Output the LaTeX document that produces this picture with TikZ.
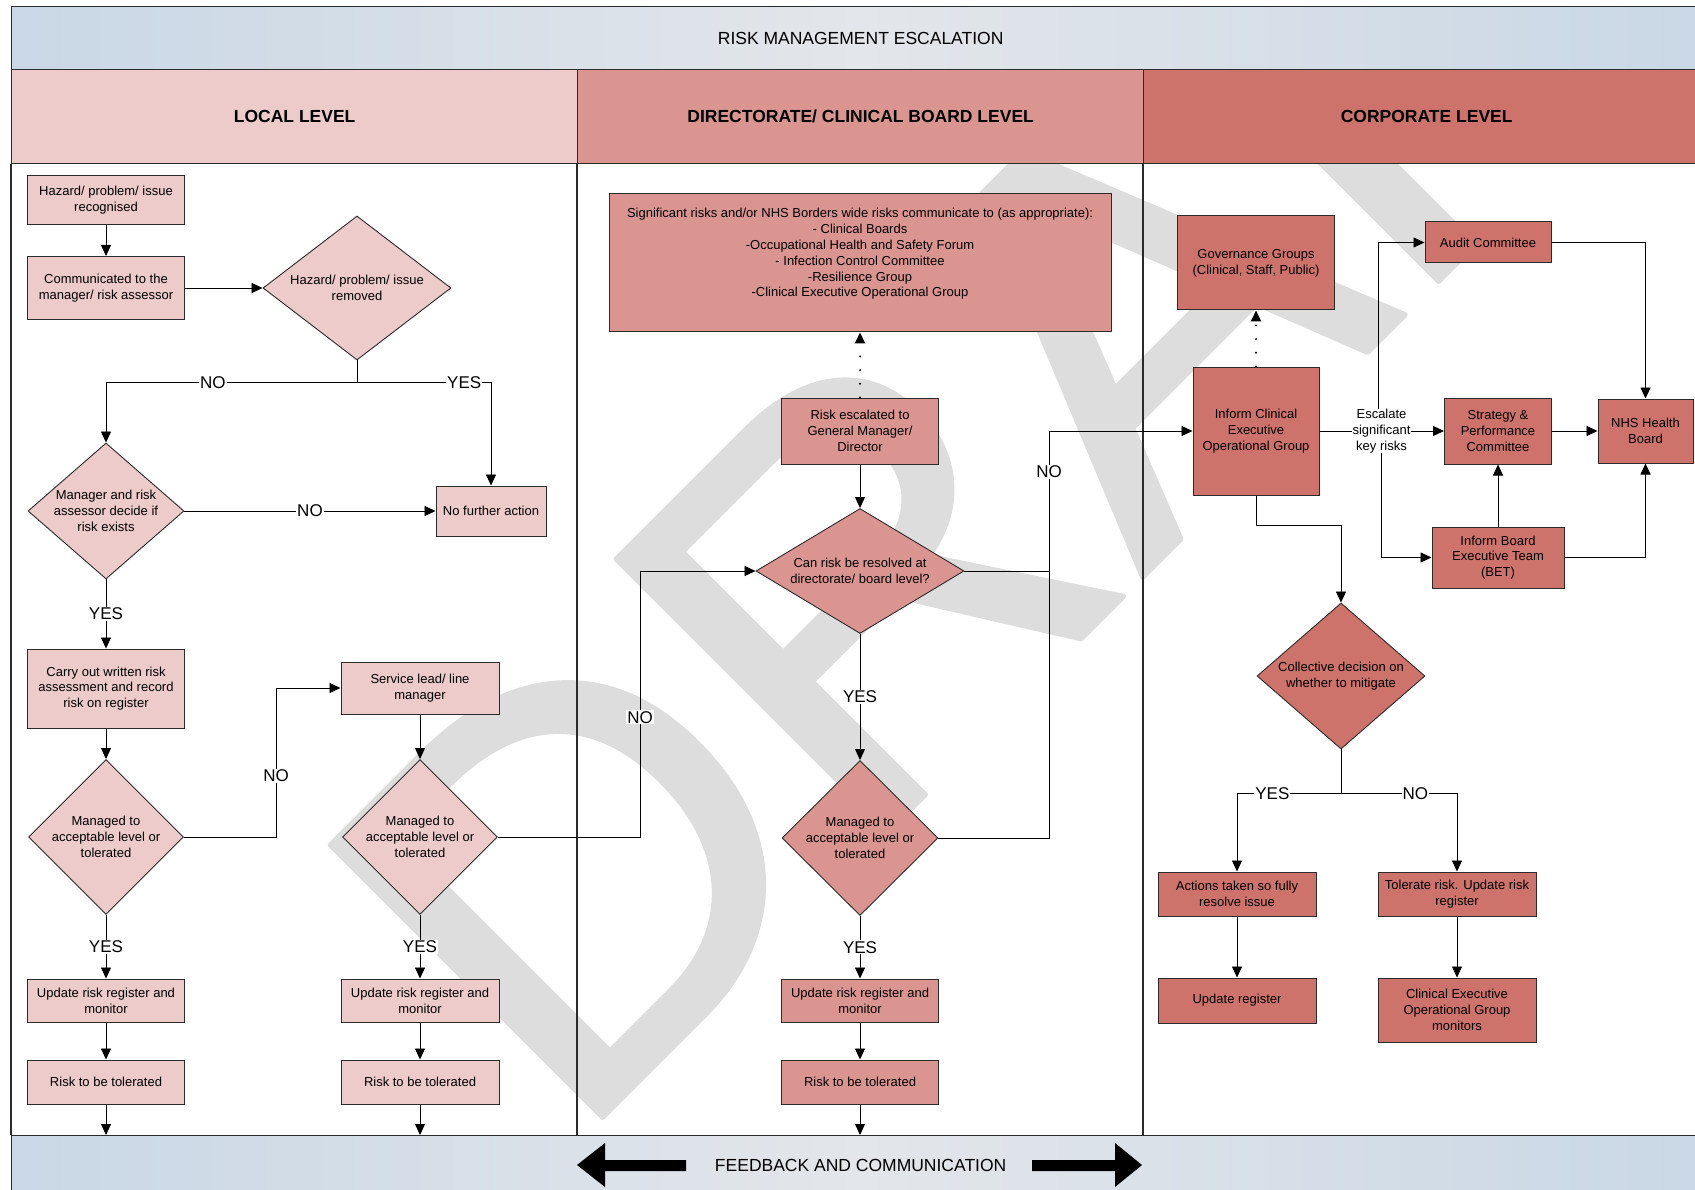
\documentclass[tikz,border=0pt]{standalone}
\usepackage{fontspec}
\setmainfont{Liberation Sans}
\usepackage{xcolor}
\usetikzlibrary{shapes.geometric,arrows.meta}

\definecolor{loccol}{HTML}{ECCBCA}
\definecolor{dircol}{HTML}{DA9591}
\definecolor{corcol}{HTML}{CD736B}
\definecolor{bandcol}{HTML}{C9D7E6}
\definecolor{bandmid}{HTML}{E3E6EA}
\definecolor{wmcol}{HTML}{DDDDDD}
\definecolor{edge}{HTML}{2B2B2B}

\newcommand{\bxfont}{\fontsize{13}{15.8}\selectfont}
\newcommand{\lbfont}{\fontsize{17}{20}\selectfont}
\newcommand{\hdfont}{\fontsize{17.5}{21}\selectfont}
\newcommand{\wmfont}{\fontsize{560}{560}\selectfont}
% rounded watermark letters
\newcommand{\rounded}[1]{\special{pdf:literal direct 2 Tr 5 w 1 j 1 J}#1\special{pdf:literal direct 0 Tr}}

\tikzset{
	box/.style={draw=edge, line width=1pt, align=center, inner sep=1pt, font=\bxfont},
	locbox/.style={box, fill=loccol},
	dirbox/.style={box, fill=dircol},
	corbox/.style={box, fill=corcol},
	decision/.style={diamond, draw=edge, line width=0.9pt, align=center, inner sep=-10pt, font=\bxfont},
	arr/.style={-{Triangle[length=11pt,width=10pt]}, line width=0.8pt},
	dotarr/.style={arr, line width=2.2pt, line cap=round, dash pattern=on 0pt off 13.7pt},
	lab/.style={fill=white, inner sep=1pt, font=\lbfont},
	bandbox/.style={draw=edge, line width=1.3pt, left color=bandcol, right color=bandcol, middle color=bandmid, font=\hdfont, inner sep=0pt},
	lanehead/.style={draw=edge, line width=1.3pt, minimum width=566pt, minimum height=94pt, inner sep=0pt, anchor=north west, font=\hdfont\bfseries},
	lanebar/.style={draw=edge, line width=1.3pt},
	wm/.style={anchor=base west, rotate=45, inner sep=0pt, text=wmcol, font=\wmfont}
}

\begin{document}
\begin{tikzpicture}[x=1pt,y=-1pt]
		\useasboundingbox (0,0) rectangle (1695,1190);
		\fill[white] (0,0) rectangle (1695,1190);
		
		% watermark
		\begin{scope}
			\clip (11,163) rectangle (1709,1135);
			\node[wm] (draft) at (570,1150) {\rounded{DRAFT}};
		\end{scope}
		
		% frame
		\node[bandbox, minimum width=1698pt, minimum height=63pt, anchor=north west] (title) at (11,6) {RISK MANAGEMENT ESCALATION};
		\node[lanehead, fill=loccol] (lloc) at (11,69) {LOCAL LEVEL};
		\node[lanehead, fill=dircol] (ldir) at (577,69) {DIRECTORATE/ CLINICAL BOARD LEVEL};
		\node[lanehead, fill=corcol] (lcor) at (1143,69) {CORPORATE LEVEL};
		\node[bandbox, minimum width=1698pt, minimum height=60pt, anchor=north west] (foot) at (11,1135) {FEEDBACK AND COMMUNICATION};
		\draw[lanebar] (lloc.south west) -- (lloc.south west |- foot.north);
		\draw[lanebar] (ldir.south west) -- (ldir.south west |- foot.north);
		\draw[lanebar] (lcor.south west) -- (lcor.south west |- foot.north);
		\fill (577,1165) -- (605,1143) -- (605,1160) -- (686,1160) -- (686,1171) -- (605,1171) -- (605,1187) -- cycle;
		\fill (1142,1165) -- (1115,1143) -- (1115,1160) -- (1032,1160) -- (1032,1171) -- (1115,1171) -- (1115,1187) -- cycle;
		
		% local level
		\node[locbox, minimum width=157pt, minimum height=49pt] (haz) at (106,200) {Hazard/ problem/ issue\\recognised};
		\node[locbox, minimum width=157pt, minimum height=63pt] (comm) at (106,288) {Communicated to the\\manager/ risk assessor};
		\node[decision, fill=loccol, minimum width=188pt, minimum height=144pt] (rem) at (357,288) {Hazard/ problem/ issue\\removed};
		\node[decision, fill=loccol, minimum width=156pt, minimum height=136pt] (exist) at (106,511) {Manager and risk\\assessor decide if\\risk exists};
		\node[locbox, minimum width=110pt, minimum height=50pt] (nfa) at (491,511) {No further action};
		\node[locbox, minimum width=157pt, minimum height=79pt] (carry) at (106,688.5) {Carry out written risk\\assessment and record\\risk on register};
		\node[decision, fill=loccol, minimum width=155pt, minimum height=155pt] (mng1) at (106,837) {Managed to\\acceptable level or\\tolerated};
		\node[locbox, minimum width=157pt, minimum height=43pt] (upd1) at (106,1000.5) {Update risk register and\\monitor};
		\node[locbox, minimum width=157pt, minimum height=44pt] (tol1) at (106,1082) {Risk to be tolerated};
		\node[locbox, minimum width=158pt, minimum height=52pt] (svc) at (420,688) {Service lead/ line\\manager};
		\node[decision, fill=loccol, minimum width=155pt, minimum height=155pt] (mng2) at (420,837) {Managed to\\acceptable level or\\tolerated};
		\node[locbox, minimum width=158pt, minimum height=43pt] (upd2) at (420,1000.5) {Update risk register and\\monitor};
		\node[locbox, minimum width=158pt, minimum height=44pt] (tol2) at (420,1082) {Risk to be tolerated};
		
		% directorate level
		\node[dirbox, minimum width=502pt, minimum height=138pt] (sig) at (860,263) {Significant risks and/or NHS Borders wide risks communicate to (as appropriate):\\- Clinical Boards\\-Occupational Health and Safety Forum\\- Infection Control Committee\\-Resilience Group\\-Clinical Executive Operational Group\\ \strut};
		\node[dirbox, minimum width=157pt, minimum height=66pt] (esc) at (860,431) {Risk escalated to\\General Manager/\\Director};
		\node[decision, fill=dircol, minimum width=208pt, minimum height=125pt] (can) at (860,571) {Can risk be resolved at\\directorate/ board level?};
		\node[decision, fill=dircol, minimum width=156pt, minimum height=155pt] (mng3) at (860,838) {Managed to\\acceptable level or\\tolerated};
		\node[dirbox, minimum width=157pt, minimum height=43pt] (upd3) at (860,1000.5) {Update risk register and\\monitor};
		\node[dirbox, minimum width=157pt, minimum height=44pt] (tol3) at (860,1082) {Risk to be tolerated};
		
		% corporate level
		\node[corbox, minimum width=157pt, minimum height=94pt] (gov) at (1256,263) {Governance Groups\\(Clinical, Staff, Public)};
		\node[corbox, minimum width=126pt, minimum height=128pt] (ceog) at (1256,431) {Inform Clinical\\Executive\\Operational Group};
		\node[corbox, minimum width=126pt, minimum height=41pt] (audit) at (1488,242.5) {Audit Committee};
		\node[corbox, minimum width=107pt, minimum height=66pt] (spc) at (1498,431) {Strategy \&\\Performance\\Committee};
		\node[corbox, minimum width=95pt, minimum height=64pt] (nhs) at (1645.5,431) {NHS Health\\Board};
		\node[corbox, minimum width=132pt, minimum height=61pt] (bet) at (1498,557.5) {Inform Board\\Executive Team\\(BET)};
		\node[font=\bxfont, fill=white, inner sep=0pt, align=center] (esclab) at (1381.5,431) {Escalate\\significant\\key risks};
		\node[decision, fill=corcol, minimum width=168pt, minimum height=146pt] (coll) at (1341,676) {Collective decision on\\whether to mitigate};
		\node[corbox, minimum width=158pt, minimum height=44pt] (act) at (1237,894) {Actions taken so fully\\resolve issue};
		\node[corbox, minimum width=158pt, minimum height=44pt] (tolr) at (1457,894) {Tolerate risk. Update risk\\register};
		\node[corbox, minimum width=158pt, minimum height=45pt] (updr) at (1237,1000.5) {Update register};
		\node[corbox, minimum width=158pt, minimum height=64pt] (ceom) at (1457,1010) {Clinical Executive\\Operational Group\\monitors};
		
		% connectors, local
		\draw[arr] (haz) -- (comm);
		\draw[arr] (comm) -- (rem);
		\draw[arr] (rem.south) -- ++(0,22) -| node[lab,pos=0.287] {NO} (exist.north);
		\draw[arr] (rem.south) -- ++(0,22) -| node[lab,pos=0.4] {YES} (nfa.north);
		\draw[arr] (exist) -- node[lab] {NO} (nfa);
		\draw[arr] (exist) -- node[lab] {YES} (carry);
		\draw[arr] (carry) -- (mng1);
		\draw[arr] (mng1.east) -- (276,837) -- node[lab,pos=0.41] {NO} (276,688) -- (svc.west);
		\draw[arr] (mng1) -- node[lab] {YES} (upd1);
		\draw[arr] (upd1) -- (tol1);
		\draw[arr] (tol1) -- (tol1 |- foot.north);
		\draw[arr] (svc) -- (mng2);
		\draw[arr] (mng2) -- node[lab] {YES} (upd2);
		\draw[arr] (upd2) -- (tol2);
		\draw[arr] (tol2) -- (tol2 |- foot.north);
		\draw[arr] (mng2.east) -- (640,837) -- node[lab,pos=0.45] {NO} (640,571) -- (can.west);
		
		% connectors, directorate
		\draw[dotarr] (esc) -- (sig);
		\draw[arr] (esc) -- (can);
		\draw[arr] (can) -- node[lab] {YES} (mng3);
		\draw[arr] (mng3) -- node[lab] {YES} (upd3);
		\draw[arr] (upd3) -- (tol3);
		\draw[arr] (tol3) -- (tol3 |- foot.north);
		\draw[arr] (mng3.east) -- (1049,838) -- node[lab,pos=0.9] {NO} (1049,431) -- (ceog.west);
		\draw[line width=0.8pt] (can.east) -- (1049,571);
		
		% connectors, corporate
		\draw[dotarr] (ceog) -- (gov);
		\draw[line width=0.8pt] (ceog.east) -- (esclab.west);
		\draw[arr] (esclab.east) -- (spc.west);
		\draw[arr] ([xshift=-3pt]esclab.north) |- (audit.west);
		\draw[arr] (esclab.south) |- (bet.west);
		\draw[arr] (audit.east) -| (nhs.north);
		\draw[arr] (spc) -- (nhs);
		\draw[arr] (bet) -- (spc);
		\draw[arr] (bet.east) -| (nhs.south);
		\draw[arr] (ceog.south) -- ++(0,30) -| (coll.north);
		\draw[arr] (coll.south) -- ++(0,44) -| node[lab,pos=0.33] {YES} (act.north);
		\draw[arr] (coll.south) -- ++(0,44) -| node[lab,pos=0.32] {NO} (tolr.north);
		\draw[arr] (act) -- (updr);
		\draw[arr] (tolr) -- (ceom);
\end{tikzpicture}
\end{document}
